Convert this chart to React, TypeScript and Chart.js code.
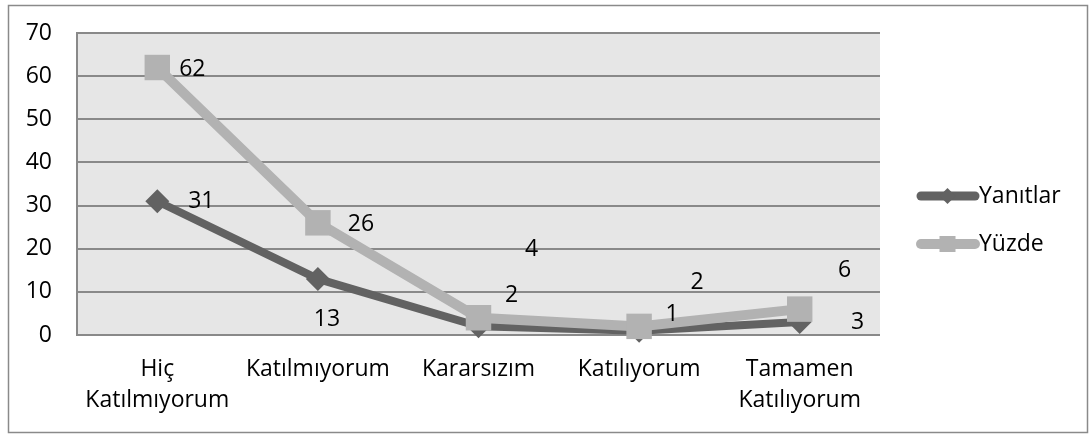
import React, { useEffect, useRef } from "react";
import { Chart, registerables } from "chart.js";

Chart.register(...registerables);

const categories: (string | string[])[] = [
  ["Hiç", "Katılmıyorum"],
  "Katılmıyorum",
  "Kararsızım",
  "Katılıyorum",
  ["Tamamen", "Katılıyorum"],
];
const yanitlar = [31, 13, 2, 1, 3];
const yuzde = [62, 26, 4, 2, 6];
const seriesNames = ["Yanıtlar", "Yüzde"];
const yTicks = [0, 10, 20, 30, 40, 50, 60, 70];

const DARK = "#626262";
const LIGHT = "#b2b2b2";
const FONT = "'Open Sans', sans-serif";
const FS = 23;

// label offsets (px) relative to each point, as Excel placed them
const labelOffsets: [number, number][][] = [
  [[44, 0], [9, 41], [33, -31], [33, -16], [58, 0]],
  [[35, 2], [43, 2], [53, -68], [58, -44], [45, -39]],
];

const framePlugin = {
  id: "frame",
  beforeDraw(chart: any) {
    const { ctx, chartArea } = chart;
    ctx.save();
    ctx.fillStyle = "#ffffff";
    ctx.fillRect(0, 0, chart.width, chart.height);
    ctx.strokeStyle = "#8a8a8a";
    ctx.lineWidth = 1.5;
    ctx.strokeRect(8.5, 5.5, 1079, 427);
    ctx.fillStyle = "#e6e6e6";
    ctx.fillRect(chartArea.left, chartArea.top, chartArea.right - chartArea.left, chartArea.bottom - chartArea.top);
    ctx.restore();
  },
  afterDatasetsDraw(chart: any) {
    const { ctx } = chart;
    ctx.save();
    ctx.fillStyle = "#000000";
    ctx.font = `${FS}px ${FONT}`;
    ctx.textAlign = "center";
    ctx.textBaseline = "middle";
    chart.data.datasets.forEach((ds: any, di: number) => {
      const meta = chart.getDatasetMeta(di);
      meta.data.forEach((pt: any, i: number) => {
        const off = labelOffsets[di][i];
        ctx.fillText(String(ds.data[i]), pt.x + off[0], pt.y + off[1]);
      });
    });
    // legend
    const items = [
      { name: seriesNames[0], color: DARK, y: 196, style: "diamond" },
      { name: seriesNames[1], color: LIGHT, y: 244, style: "square" },
    ];
    items.forEach((it) => {
      ctx.strokeStyle = it.color;
      ctx.lineWidth = it.style === "diamond" ? 9 : 10;
      ctx.lineCap = "round";
      ctx.beginPath();
      ctx.moveTo(921, it.y);
      ctx.lineTo(975, it.y);
      ctx.stroke();
      ctx.fillStyle = it.color;
      const cx = 947.5;
      if (it.style === "diamond") {
        ctx.beginPath();
        ctx.moveTo(cx, it.y - 8);
        ctx.lineTo(cx + 8, it.y);
        ctx.lineTo(cx, it.y + 8);
        ctx.lineTo(cx - 8, it.y);
        ctx.closePath();
        ctx.fill();
      } else {
        ctx.fillRect(cx - 8, it.y - 8, 16, 16);
      }
      ctx.fillStyle = "#000000";
      ctx.textAlign = "left";
      ctx.fillText(it.name, 979, it.y);
    });
    ctx.restore();
  },
};

export default function App() {
  const ref = useRef<HTMLCanvasElement | null>(null);
  useEffect(() => {
    document.body.style.margin = "0";
    const chart = new Chart(ref.current!, {
      type: "line",
      data: {
        labels: categories,
        datasets: [
          {
            label: seriesNames[0],
            data: yanitlar,
            borderColor: DARK,
            backgroundColor: DARK,
            borderWidth: 8,
            pointStyle: "rectRot",
            pointRadius: 12,
            pointBorderWidth: 0,
            pointBackgroundColor: DARK,
            tension: 0,
            order: 1,
            clip: false,
          },
          {
            label: seriesNames[1],
            data: yuzde,
            borderColor: LIGHT,
            backgroundColor: LIGHT,
            borderWidth: 10,
            pointStyle: "rect",
            pointRadius: 18,
            pointBorderWidth: 0,
            pointBackgroundColor: LIGHT,
            tension: 0,
            order: 0,
            clip: false,
          },
        ],
      },
      options: {
        animation: false,
        responsive: false,
        layout: { autoPadding: false, padding: { left: 0, top: 33, right: 210, bottom: 0 } },
        plugins: { legend: { display: false }, tooltip: { enabled: false } },
        scales: {
          x: {
            offset: true,
            grid: { display: false, drawTicks: false },
            border: { display: false },
            ticks: {
              color: "#000000",
              font: { family: FONT, size: FS, lineHeight: 31 / FS },
              padding: 19,
              maxRotation: 0,
              autoSkip: false,
            },
            afterFit: (s: any) => { s.height = 102; },
          },
          y: {
            min: 0,
            max: 70,
            afterBuildTicks: (s: any) => { s.ticks = yTicks.map((v) => ({ value: v })); },
            grid: { color: "#898989", lineWidth: 2, drawTicks: false },
            border: { display: true, color: "#898989", width: 2 },
            ticks: {
              color: "#000000",
              font: { family: FONT, size: FS },
              padding: 25,
            },
            afterFit: (s: any) => {
              s.width = 77;
              s.paddingTop = 0;
              s.paddingBottom = 0;
            },
          },
        },
      },
      plugins: [framePlugin],
    });
    return () => chart.destroy();
  }, []);
  return (
    <div style={{ position: "absolute", left: 0, top: 0, width: 1090, height: 437 }}>
      <canvas ref={ref} width={1090} height={437} style={{ display: "block" }} />
    </div>
  );
}
